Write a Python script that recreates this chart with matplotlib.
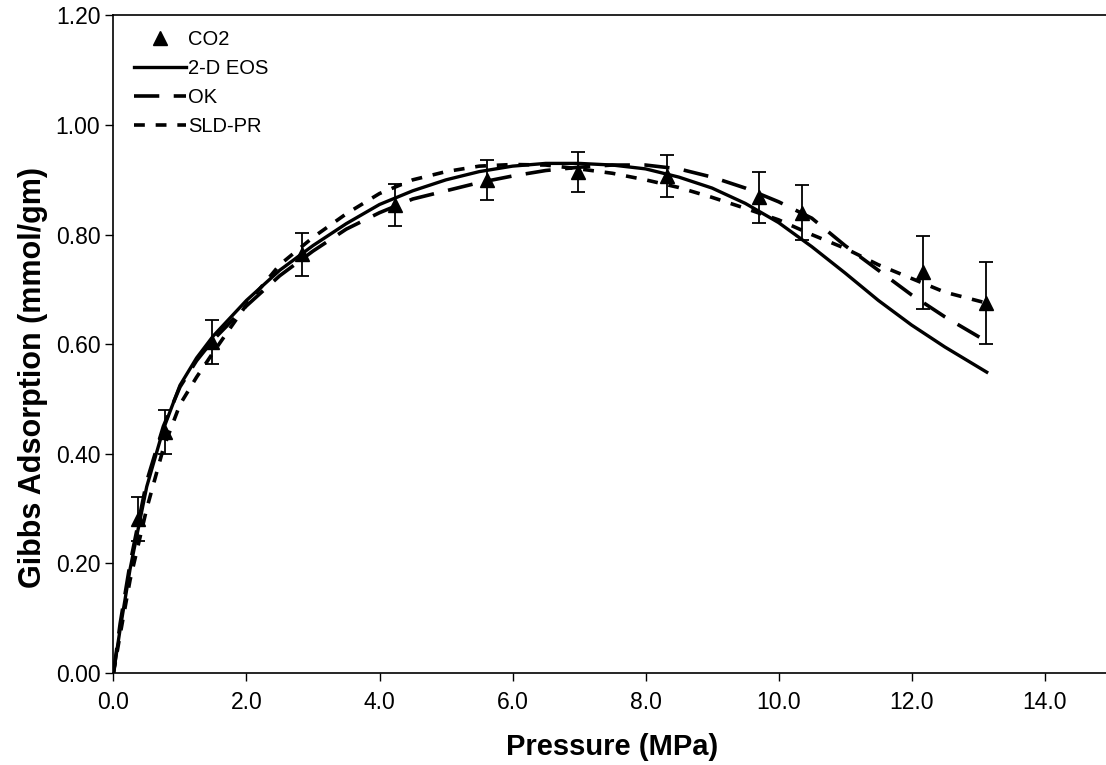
import matplotlib
matplotlib.use("Agg")
import matplotlib.pyplot as plt

plt.rcParams['font.family'] = ['Liberation Sans', 'DejaVu Sans']

# experimental CO2 points
p_exp = [0.37, 0.77, 1.48, 2.83, 4.23, 5.62, 6.99, 8.33, 9.70, 10.35, 12.17, 13.12]
g_exp = [0.281, 0.440, 0.604, 0.764, 0.854, 0.900, 0.914, 0.907, 0.868, 0.840, 0.731, 0.675]
g_err = [0.040, 0.040, 0.040, 0.039, 0.038, 0.037, 0.037, 0.038, 0.047, 0.050, 0.067, 0.075]

# model curves
p_mod = [0, 0.1, 0.25, 0.5, 0.75, 1.0, 1.25, 1.5, 2.0, 2.5, 3.0, 3.5, 4.0, 4.5, 5.0, 5.5,
         6.0, 6.5, 7.0, 7.5, 8.0, 8.5, 9.0, 9.5, 10.0, 10.5, 11.0, 11.5, 12.0, 12.5, 13.13]
g_eos = [0, 0.08, 0.19, 0.34, 0.445, 0.525, 0.575, 0.615, 0.68, 0.735, 0.78, 0.82, 0.855, 0.88, 0.90, 0.915,
         0.925, 0.93, 0.93, 0.927, 0.92, 0.905, 0.885, 0.857, 0.822, 0.778, 0.73, 0.68, 0.635, 0.595, 0.549]
g_ok = [0, 0.09, 0.20, 0.35, 0.45, 0.522, 0.57, 0.608, 0.67, 0.725, 0.77, 0.81, 0.84, 0.865, 0.88, 0.895,
        0.907, 0.917, 0.923, 0.927, 0.927, 0.92, 0.905, 0.885, 0.86, 0.83, 0.78, 0.735, 0.69, 0.65, 0.605]
g_sld = [0, 0.07, 0.17, 0.30, 0.41, 0.49, 0.54, 0.585, 0.672, 0.745, 0.795, 0.838, 0.875, 0.90, 0.915, 0.925,
         0.928, 0.927, 0.92, 0.912, 0.90, 0.886, 0.868, 0.848, 0.827, 0.80, 0.775, 0.745, 0.72, 0.695, 0.675]

fig = plt.figure(figsize=(11.06, 7.65), dpi=100)
ax = fig.add_axes([0.1026, 0.1203, 0.902, 0.8595])

ax.errorbar(p_exp, g_exp, yerr=g_err, fmt='none', ecolor='black', elinewidth=1.3,
            capsize=5, capthick=1.3, zorder=3)
ax.plot(p_exp, g_exp, '^', color='black', markersize=10, label='CO2', zorder=4)
ax.plot(p_mod, g_eos, '-', color='black', linewidth=2.4, label='2-D EOS')
ax.plot(p_mod, g_ok, color='black', linewidth=2.6, dashes=(7, 4), label='OK')
ax.plot(p_mod, g_sld, color='black', linewidth=2.6, dashes=(3, 3), label='SLD-PR')

ax.set_xlim(0, 15)
ax.set_ylim(0, 1.2)
ax.set_xticks([0, 2, 4, 6, 8, 10, 12, 14])
ax.set_xticklabels(['%.1f' % v for v in [0, 2, 4, 6, 8, 10, 12, 14]])
ax.set_yticks([0, 0.2, 0.4, 0.6, 0.8, 1.0, 1.2])
ax.set_yticklabels(['%.2f' % v for v in [0, 0.2, 0.4, 0.6, 0.8, 1.0, 1.2]])
ax.tick_params(direction='out', length=6, width=1, labelsize=16.5, colors='black')
ax.tick_params(axis='x', pad=7)
ax.spines['right'].set_visible(False)
for s in ['left', 'bottom', 'top']:
    ax.spines[s].set_linewidth(1.2)

ax.set_xlabel('Pressure (MPa)', fontsize=21, fontweight='bold', labelpad=14)
ax.set_ylabel('Gibbs Adsorption (mmol/gm)', fontsize=22, fontweight='bold')
ax.yaxis.set_label_coords(-0.066, 0.45)

ax.legend(loc='upper left', bbox_to_anchor=(0.012, 0.99), frameon=False, fontsize=14.5,
          handlelength=2.6, handletextpad=0.1, labelspacing=0.5, borderaxespad=0)

fig.savefig('out.png', dpi=100)
